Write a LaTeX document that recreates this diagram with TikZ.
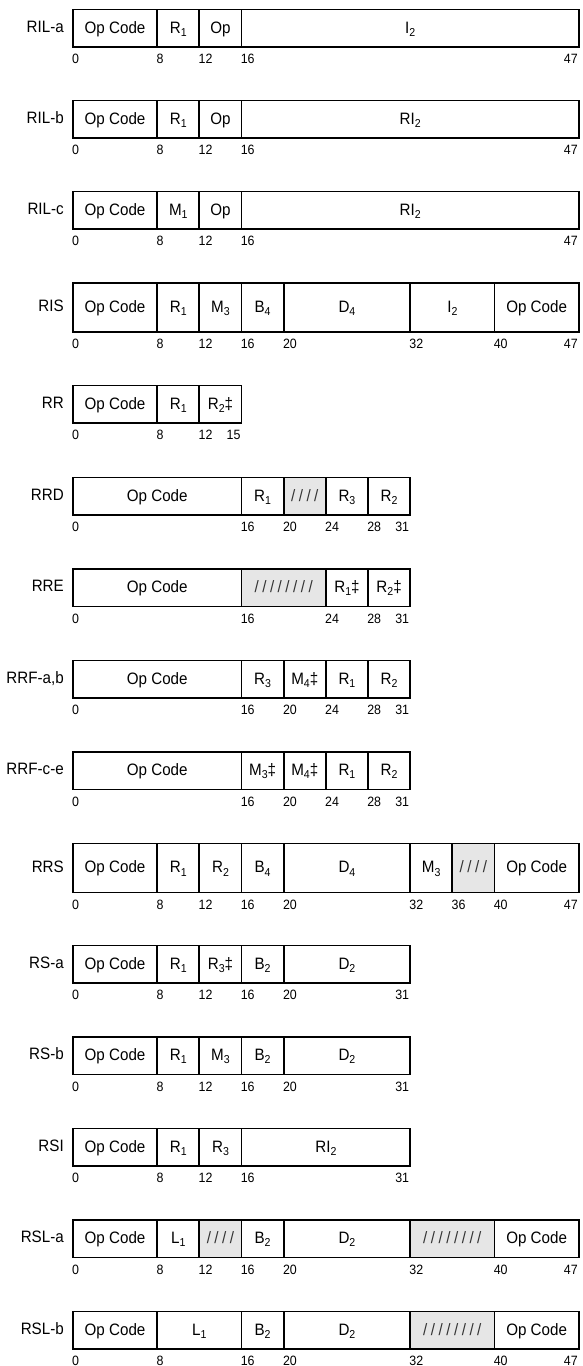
\documentclass[tikz,border=0pt]{standalone}
\usepackage{fontspec}
\setmainfont[FakeStretch=0.92]{Liberation Sans}
\definecolor{shadegray}{HTML}{E6E6E6}
\definecolor{slcol}{HTML}{333333}
\newcommand\fldfont{\fontsize{16.5}{16.5}\selectfont}
\newcommand\numfont{\fontsize{13.5}{13.5}\selectfont}
\newcommand\fsub[1]{\raisebox{-3.2pt}{\fontsize{11.5}{11.5}\selectfont #1}}
\newcommand\slfour{\textcolor{slcol}{/\kern3.5pt/\kern3.5pt/\kern3.5pt/}}
\newcommand\sleight{\textcolor{slcol}{/\kern3.5pt/\kern3.5pt/\kern3.5pt/\kern3.5pt/\kern3.5pt/\kern3.5pt/\kern3.5pt/}}
\def\xo{72}
\def\bw{10.54}
\tikzset{
  fld/.style={draw, line width=1.8pt, inner sep=0pt,
    anchor=north west, font=\fldfont, text height=12pt, text depth=2pt},
  plainf/.style={},
  shd/.style={fill=shadegray},
  num/.style={font=\numfont, anchor=base west, inner sep=0pt},
  rowlab/.style={font=\fldfont, anchor=east, inner sep=0pt, text height=12pt, text depth=2pt}
}
% #1 id, #2 top, #3 height, #4 label, #5 fields, #6 numbers, #7 total bits
\newcommand\frow[7]{%
  \node[rowlab] (#1lab) at (64,#2+#3/2) {#4};
  \foreach \a/\b/\t/\s [count=\k] in {#5}{%
    \pgfmathsetmacro\fw{(\b-\a)*\bw}%
    \node[fld,\s,minimum width=\fw pt,minimum height=#3pt] (#1f\k) at ({\xo+\a*\bw},#2) {\t};
  }
  \foreach \p [count=\k] in {#6}{%
    \node[num] (#1n\k) at ({\xo+\p*\bw},#2+#3+17.5) {\p};
  }
  \node[num,anchor=base east] (#1ne) at ({\xo+#7*\bw},#2+#3+17.5) {\the\numexpr#7-1\relax};
}
\begin{document}
\begin{tikzpicture}[x=1pt,y=-1pt]
\useasboundingbox (0,0) rectangle (582,1366);
\frow{rila}{8.5}{37.5}{RIL-a}{0/8/Op Code/plainf, 8/12/R\fsub{1}/plainf, 12/16/Op/plainf, 16/48/I\fsub{2}/plainf}{0,8,12,16}{48}
\frow{rilb}{99.5}{37.5}{RIL-b}{0/8/Op Code/plainf, 8/12/R\fsub{1}/plainf, 12/16/Op/plainf, 16/48/RI\fsub{2}/plainf}{0,8,12,16}{48}
\frow{rilc}{190.5}{37.5}{RIL-c}{0/8/Op Code/plainf, 8/12/M\fsub{1}/plainf, 12/16/Op/plainf, 16/48/RI\fsub{2}/plainf}{0,8,12,16}{48}
\frow{ris}{282}{49}{RIS}{0/8/Op Code/plainf, 8/12/R\fsub{1}/plainf, 12/16/M\fsub{3}/plainf, 16/20/B\fsub{4}/plainf, 20/32/D\fsub{4}/plainf, 32/40/I\fsub{2}/plainf, 40/48/Op Code/plainf}{0,8,12,16,20,32,40}{48}
\frow{rr}{384.5}{37.5}{RR}{0/8/Op Code/plainf, 8/12/R\fsub{1}/plainf, 12/16/R\fsub{2}‡/plainf}{0,8,12}{16}
\frow{rrd}{476.5}{37.5}{RRD}{0/16/Op Code/plainf, 16/20/R\fsub{1}/plainf, 20/24/\slfour/shd, 24/28/R\fsub{3}/plainf, 28/32/R\fsub{2}/plainf}{0,16,20,24,28}{32}
\frow{rre}{568}{37.5}{RRE}{0/16/Op Code/plainf, 16/24/\sleight/shd, 24/28/R\fsub{1}‡/plainf, 28/32/R\fsub{2}‡/plainf}{0,16,24,28}{32}
\frow{rrfab}{659.5}{37.5}{RRF-a,b}{0/16/Op Code/plainf, 16/20/R\fsub{3}/plainf, 20/24/M\fsub{4}‡/plainf, 24/28/R\fsub{1}/plainf, 28/32/R\fsub{2}/plainf}{0,16,20,24,28}{32}
\frow{rrfce}{751}{37.5}{RRF-c-e}{0/16/Op Code/plainf, 16/20/M\fsub{3}‡/plainf, 20/24/M\fsub{4}‡/plainf, 24/28/R\fsub{1}/plainf, 28/32/R\fsub{2}/plainf}{0,16,20,24,28}{32}
\frow{rrs}{842.5}{49}{RRS}{0/8/Op Code/plainf, 8/12/R\fsub{1}/plainf, 12/16/R\fsub{2}/plainf, 16/20/B\fsub{4}/plainf, 20/32/D\fsub{4}/plainf, 32/36/M\fsub{3}/plainf, 36/40/\slfour/shd, 40/48/Op Code/plainf}{0,8,12,16,20,32,36,40}{48}
\frow{rsa}{944.5}{37.5}{RS-a}{0/8/Op Code/plainf, 8/12/R\fsub{1}/plainf, 12/16/R\fsub{3}‡/plainf, 16/20/B\fsub{2}/plainf, 20/32/D\fsub{2}/plainf}{0,8,12,16,20}{32}
\frow{rsb}{1036}{37.5}{RS-b}{0/8/Op Code/plainf, 8/12/R\fsub{1}/plainf, 12/16/M\fsub{3}/plainf, 16/20/B\fsub{2}/plainf, 20/32/D\fsub{2}/plainf}{0,8,12,16,20}{32}
\frow{rsi}{1127.5}{37.5}{RSI}{0/8/Op Code/plainf, 8/12/R\fsub{1}/plainf, 12/16/R\fsub{3}/plainf, 16/32/RI\fsub{2}/plainf}{0,8,12,16}{32}
\frow{rsla}{1219}{37.5}{RSL-a}{0/8/Op Code/plainf, 8/12/L\fsub{1}/plainf, 12/16/\slfour/shd, 16/20/B\fsub{2}/plainf, 20/32/D\fsub{2}/plainf, 32/40/\sleight/shd, 40/48/Op Code/plainf}{0,8,12,16,20,32,40}{48}
\frow{rslb}{1310.5}{37.5}{RSL-b}{0/8/Op Code/plainf, 8/16/L\fsub{1}/plainf, 16/20/B\fsub{2}/plainf, 20/32/D\fsub{2}/plainf, 32/40/\sleight/shd, 40/48/Op Code/plainf}{0,8,16,20,32,40}{48}
\end{tikzpicture}
\end{document}
